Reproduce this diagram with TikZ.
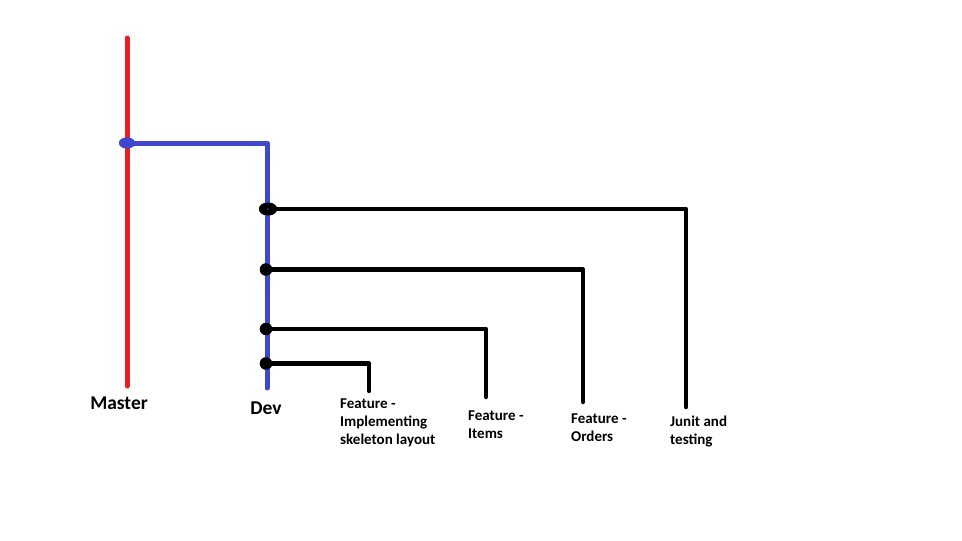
\documentclass[tikz,border=0pt]{standalone}
\usepackage{fontspec}
\usetikzlibrary{shapes.geometric}
\setmainfont{Carlito}
\definecolor{paintred}{HTML}{ED1C24}
\definecolor{paintblue}{HTML}{3F48CC}
\begin{document}
\begin{tikzpicture}[x=1pt,y=-1pt,
  masterline/.style={draw=paintred,line width=5pt,line cap=round},
  devline/.style={draw=paintblue,line width=5pt,line join=round,line cap=round},
  featline/.style={draw=black,line width=4.5pt,line join=round,line cap=round},
  commitdot/.style={ellipse,inner sep=0pt,outer sep=0pt,draw=none},
  lbl/.style={font=\bfseries\fontsize{15}{18}\selectfont,align=left,anchor=north west,inner sep=0pt},
  biglbl/.style={font=\bfseries\fontsize{19.5}{22}\selectfont,anchor=base,inner sep=0pt}
]
\useasboundingbox[fill=white] (0,0) rectangle (962,541);
% coordinates
\coordinate (mtop) at (127,38);
\coordinate (mbot) at (127,386);
\coordinate (dtop) at (267,143);
\coordinate (dbot) at (267,388);
\coordinate (f1c) at (686,209);
\coordinate (f1e) at (686,407);
\coordinate (f2c) at (583,269.5);
\coordinate (f2e) at (583,402);
\coordinate (f3c) at (486,329);
\coordinate (f3e) at (486,397);
\coordinate (f4c) at (369,363.5);
\coordinate (f4e) at (369,391);
% master
\draw[masterline] (mtop) -- (mbot);
% commit dots (positions)
\node[commitdot,fill=paintblue,minimum width=16pt,minimum height=11pt] (branch) at (127,143) {};
\node[commitdot,fill=black,minimum width=18pt,minimum height=13pt] (d1) at (268,209) {};
\node[commitdot,fill=black,minimum width=12.4pt,minimum height=12.4pt] (d2) at (266,269.5) {};
\node[commitdot,fill=black,minimum width=12.4pt,minimum height=12.4pt] (d3) at (266,329) {};
\node[commitdot,fill=black,minimum width=12.4pt,minimum height=12.4pt] (d4) at (266,363.5) {};
% dev
\draw[devline] (branch.center) -- (dtop) -- (dbot);
% features
\draw[featline] (d1.center) -- (f1c) -- (f1e);
\draw[featline] (d2.center) -- (f2c) -- (f2e);
\draw[featline] (d3.center) -- (f3c) -- (f3e);
\draw[featline] (d4.center) -- (f4c) -- (f4e);
% redraw dots on top
\fill[paintblue] (branch.center) ellipse (8pt and 5.5pt);
\fill[black] (d1.center) ellipse (9pt and 6.5pt);
\fill[black] (d2.center) circle (6.2pt);
\fill[black] (d3.center) circle (6.2pt);
\fill[black] (d4.center) circle (6.2pt);
\fill[paintblue] (d1.center) circle (0.8pt);
% labels
\node[biglbl] (master) at (119,409) {Master};
\node[biglbl] (dev) at (266,414) {Dev};
\node[lbl] (l1) at (340,398.3) {Feature -\\Implementing\\skeleton layout};
\node[lbl] (l2) at (468,410.3) {Feature -\\Items};
\node[lbl] (l3) at (571,413.3) {Feature -\\Orders};
\node[lbl] (l4) at (670,415.3) {Junit and\\testing};
\end{tikzpicture}
\end{document}
